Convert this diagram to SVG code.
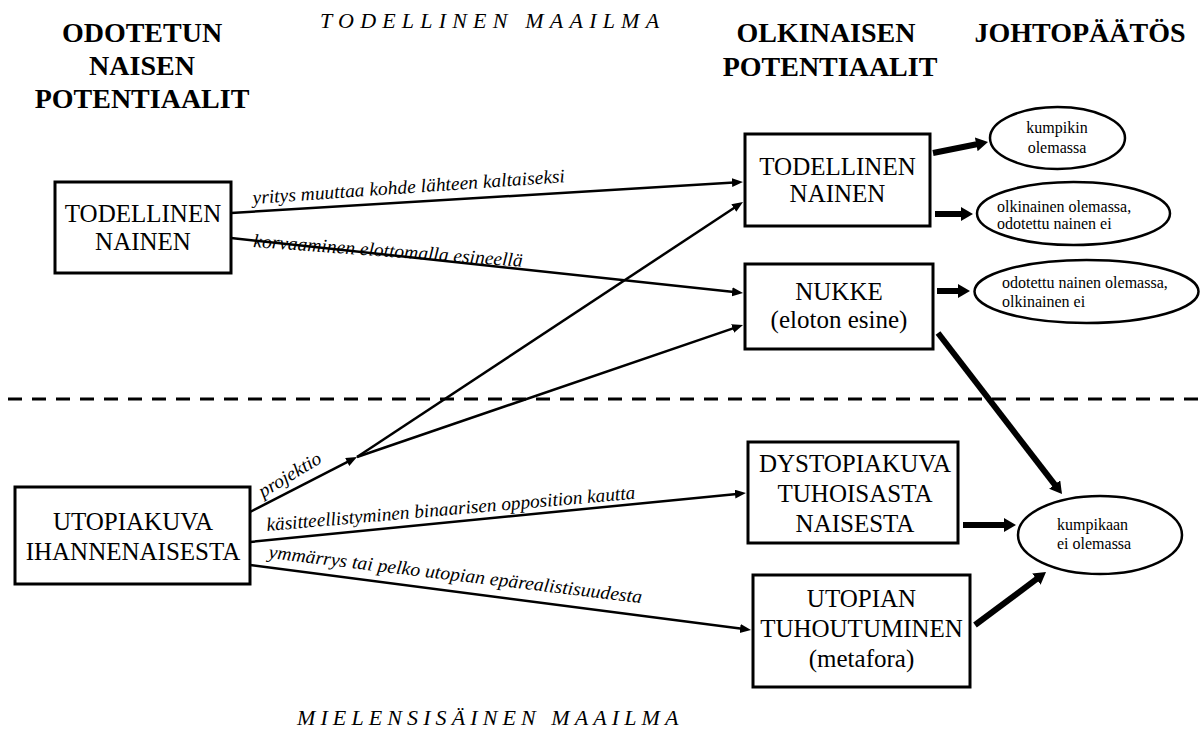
<svg xmlns="http://www.w3.org/2000/svg" width="1201" height="754" viewBox="0 0 1201 754">
<style>
.bg{fill:#fff}
.hd{font-family:"Liberation Serif","Times New Roman",serif;font-weight:bold;font-size:28px;fill:#000;text-anchor:middle}
.world{font-family:"Liberation Serif","Times New Roman",serif;font-style:italic;font-size:22px;fill:#000}
.box{fill:#fff;stroke:#000;stroke-width:3}
.bt{font-family:"Liberation Serif","Times New Roman",serif;font-size:25px;fill:#000;text-anchor:middle}
.ell{fill:#fff;stroke:#000;stroke-width:2.5}
.et{font-family:"Liberation Serif","Times New Roman",serif;font-size:16px;fill:#000}
.lbl{font-family:"Liberation Serif","Times New Roman",serif;font-style:italic;font-size:19px;fill:#000}
.thin{stroke:#000;stroke-width:2.5;fill:none;marker-end:url(#ah)}
.thick{stroke:#000;stroke-width:6;fill:none;marker-end:url(#ahb)}
.dash{stroke:#000;stroke-width:3;stroke-dasharray:14 10;fill:none}
</style>
<defs>
<marker id="ah" markerUnits="userSpaceOnUse" markerWidth="12" markerHeight="10" refX="2" refY="4.5" orient="auto"><path d="M0,0 L11,4.5 L0,9 z" fill="#000"/></marker>
<marker id="ahb" markerUnits="userSpaceOnUse" markerWidth="13" markerHeight="15" refX="3" refY="7" orient="auto"><path d="M0,0 L12,7 L0,14 z" fill="#000"/></marker>
</defs>
<rect class="bg" x="0" y="0" width="1201" height="754"/>

<g id="headers">
<text class="hd" x="142" y="42">ODOTETUN</text>
<text class="hd" x="142" y="75">NAISEN</text>
<text class="hd" x="142" y="108">POTENTIAALIT</text>
<text class="hd" x="826" y="42">OLKINAISEN</text>
<text class="hd" x="830" y="76">POTENTIAALIT</text>
<text class="hd" x="1080" y="42">JOHTOPÄÄTÖS</text>
<text class="world" x="320" y="28" letter-spacing="6.2">TODELLINEN MAAILMA</text>
<text class="world" x="297" y="725" letter-spacing="5.1">MIELENSISÄINEN MAAILMA</text>
</g>

<line id="divider" class="dash" x1="8" y1="399" x2="1201" y2="399"/>

<g id="connectors">
<line class="thin" x1="231" y1="213" x2="734" y2="182.5"/>
<line class="thin" x1="231" y1="238" x2="734.1" y2="292"/>
<line class="thin" x1="250" y1="512" x2="349" y2="461.1"/>
<line class="thin" x1="357" y1="457" x2="735.5" y2="207"/>
<line class="thin" x1="357" y1="457" x2="734.5" y2="327.9"/>
<line class="thin" x1="250" y1="542" x2="737" y2="493.9"/>
<line class="thin" x1="250" y1="565" x2="742.1" y2="628.8"/>
<line class="thick" x1="933" y1="153" x2="979.2" y2="143.8"/>
<line class="thick" x1="935" y1="214" x2="964" y2="214"/>
<line class="thick" x1="937" y1="291" x2="961" y2="291"/>
<line class="thick" x1="938" y1="333" x2="1056.5" y2="486.9"/>
<line class="thick" x1="963" y1="525" x2="1007" y2="525"/>
<line class="thick" x1="975" y1="625" x2="1038.8" y2="577.4"/>
<text class="lbl" transform="translate(253,204) rotate(-4)" textLength="313" lengthAdjust="spacingAndGlyphs">yritys muuttaa kohde lähteen kaltaiseksi</text>
<text class="lbl" transform="translate(253,247) rotate(4.2)" textLength="270" lengthAdjust="spacingAndGlyphs">korvaaminen elottomalla esineellä</text>
<text class="lbl" transform="translate(263,498) rotate(-31)" textLength="70" lengthAdjust="spacingAndGlyphs">projektio</text>
<text class="lbl" transform="translate(267,531) rotate(-5)" textLength="370" lengthAdjust="spacingAndGlyphs">käsitteellistyminen binaarisen opposition kautta</text>
<text class="lbl" transform="translate(268,558) rotate(6.9)" textLength="376" lengthAdjust="spacingAndGlyphs">ymmärrys tai pelko utopian epärealistisuudesta</text>
</g>

<g id="n-todellinen-left">
<rect class="box" x="55" y="182" width="176" height="91"/>
<text class="bt" x="143" y="222">TODELLINEN</text>
<text class="bt" x="143" y="250">NAINEN</text>
</g>
<g id="n-utopiakuva">
<rect class="box" x="15" y="487" width="235" height="97"/>
<text class="bt" x="133" y="530">UTOPIAKUVA</text>
<text class="bt" x="133" y="560">IHANNENAISESTA</text>
</g>
<g id="n-todellinen-mid">
<rect class="box" x="745" y="134" width="185" height="92"/>
<text class="bt" x="837.5" y="175">TODELLINEN</text>
<text class="bt" x="837.5" y="202">NAINEN</text>
</g>
<g id="n-nukke">
<rect class="box" x="745" y="264" width="188" height="85"/>
<text class="bt" x="839" y="300">NUKKE</text>
<text class="bt" x="839" y="328">(eloton esine)</text>
</g>
<g id="n-dystopia">
<rect class="box" x="748" y="442" width="210" height="101"/>
<text class="bt" x="855" y="472">DYSTOPIAKUVA</text>
<text class="bt" x="855" y="502">TUHOISASTA</text>
<text class="bt" x="855" y="532">NAISESTA</text>
</g>
<g id="n-utopian">
<rect class="box" x="753" y="575" width="217" height="112"/>
<text class="bt" x="861.5" y="607">UTOPIAN</text>
<text class="bt" x="861.5" y="637">TUHOUTUMINEN</text>
<text class="bt" x="861.5" y="667">(metafora)</text>
</g>
<g id="n-kumpikin">
<ellipse class="ell" cx="1057.5" cy="138" rx="67.5" ry="31"/>
<text class="et" x="1057" y="133" text-anchor="middle">kumpikin</text>
<text class="et" x="1057" y="153" text-anchor="middle">olemassa</text>
</g>
<g id="n-olkinainen">
<ellipse class="ell" cx="1073.5" cy="213.5" rx="96.5" ry="31.5"/>
<text class="et" x="997" y="212">olkinainen olemassa,</text>
<text class="et" x="997" y="229">odotettu nainen ei</text>
</g>
<g id="n-odotettu">
<ellipse class="ell" cx="1086.5" cy="291.5" rx="112" ry="31.5"/>
<text class="et" x="1002" y="288">odotettu nainen olemassa,</text>
<text class="et" x="1002" y="307">olkinainen ei</text>
</g>
<g id="n-kumpikaan">
<ellipse class="ell" cx="1100" cy="535" rx="82" ry="39"/>
<text class="et" x="1057" y="530">kumpikaan</text>
<text class="et" x="1057" y="549">ei olemassa</text>
</g>
</svg>
